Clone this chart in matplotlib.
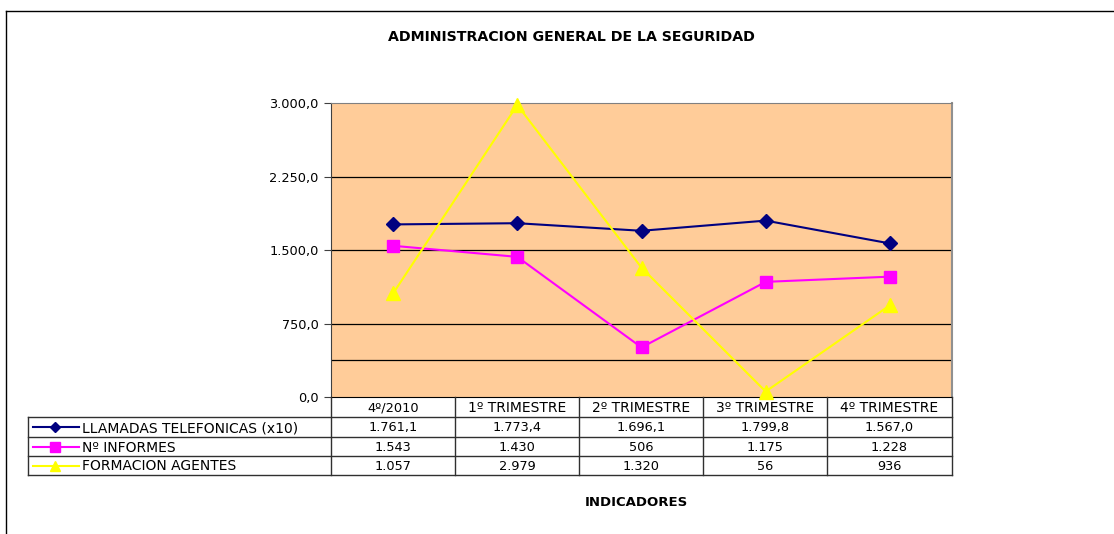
import matplotlib.pyplot as plt
from matplotlib.lines import Line2D
from matplotlib.ticker import FuncFormatter

plt.rcParams['font.family'] = ['DejaVu Sans']

# datos
periodos = ["4º/2010", "1º TRIMESTRE", "2º TRIMESTRE", "3º TRIMESTRE", "4º TRIMESTRE"]
series = ["LLAMADAS TELEFONICAS (x10)", "Nº INFORMES", "FORMACION AGENTES"]
llamadas = [1761.1, 1773.4, 1696.1, 1799.8, 1567.0]
informes = [1543, 1430, 506, 1175, 1228]
formacion = [1057, 2979, 1320, 56, 936]
y_ticks = [0, 750, 1500, 2250, 3000]

valores = [llamadas, informes, formacion]
decimales = [1, 0, 0]
colores = ["#000080", "#FF00FF", "#FFFF00"]
marcadores = ["D", "s", "^"]
tam_marc = [7, 9, 10]
tam_leyenda = [5, 7, 7]

W, H = 1114, 534
FS_NUM = 9.3   # numeros
FS_TXT = 10.0  # textos en mayusculas


def fx(px):
    return px / W


def fy(py):
    return 1 - py / H


def num_es(v, dec):
    s = f"{v:,.{dec}f}"
    return s.replace(",", "X").replace(".", ",").replace("X", ".")


fig = plt.figure(figsize=(W / 100, H / 100), dpi=100)
fig.patch.set_facecolor("white")

# marco exterior
fig.add_artist(Line2D([fx(6), fx(1114)], [fy(11), fy(11)], color="black", lw=1))
fig.add_artist(Line2D([fx(6), fx(6)], [fy(11), fy(534)], color="black", lw=1))

L, R, T, B = 331, 952, 103, 397
ax = fig.add_axes([fx(L), fy(B), fx(R - L), fy(T) - fy(B)])
ax.set_facecolor("#FFCC99")

for ys in [375, 750, 1500, 2250]:
    ax.axhline(ys, color="black", lw=0.9, zorder=1)

x = list(range(len(periodos)))
for vals, c, m, ms in zip(valores, colores, marcadores, tam_marc):
    ax.plot(x, vals, color=c, marker=m, markersize=ms, lw=1.5,
            markeredgecolor=c, clip_on=False, zorder=3)

ax.set_xlim(-0.5, len(periodos) - 0.5)
ax.set_ylim(0, 3000)
ax.set_yticks(y_ticks)
ax.yaxis.set_major_formatter(FuncFormatter(lambda v, p: num_es(v, 1)))
ax.tick_params(axis="y", direction="out", length=5, width=0.8,
               labelsize=FS_NUM, pad=4, colors="#404040", labelcolor="black")
ax.set_xticks([])
ax.spines["left"].set_color("#404040")
ax.spines["right"].set_color("#909090")
ax.spines["right"].set_linewidth(1.5)
ax.spines["top"].set_color("#808080")
ax.spines["bottom"].set_color("black")

# tabla de datos
cols = [331, 455, 579, 703, 827, 952]
filas = [397, 417, 437, 456, 475]
lc = "#303030"
for yy in filas[1:]:
    fig.add_artist(Line2D([fx(28), fx(952)], [fy(yy), fy(yy)], color=lc, lw=1))
fig.add_artist(Line2D([fx(28), fx(28)], [fy(417), fy(475)], color=lc, lw=1))
for xx in cols:
    fig.add_artist(Line2D([fx(xx), fx(xx)], [fy(397), fy(475)], color=lc, lw=1))

for i, p in enumerate(periodos):
    cx = (cols[i] + cols[i + 1]) / 2
    fig.text(fx(cx), fy((filas[0] + filas[1]) / 2 + 1), p, ha="center", va="center",
             fontsize=FS_NUM if i == 0 else FS_TXT)

for j, (nombre, vals, dec, c, m, ms) in enumerate(zip(series, valores, decimales, colores, marcadores, tam_leyenda)):
    cy = (filas[j + 1] + filas[j + 2]) / 2
    fig.add_artist(Line2D([fx(33), fx(79)], [fy(cy), fy(cy)], color=c, lw=1.5))
    fig.add_artist(Line2D([fx(55)], [fy(cy)], color=c, marker=m, markersize=ms,
                          markeredgecolor=c, lw=0))
    fig.text(fx(82), fy(cy + 1), nombre, ha="left", va="center", fontsize=FS_TXT)
    for i, v in enumerate(vals):
        cx = (cols[i] + cols[i + 1]) / 2
        fig.text(fx(cx), fy(cy + 1), num_es(v, dec), ha="center", va="center", fontsize=FS_NUM)

fig.text(fx(571), fy(37), "ADMINISTRACION GENERAL DE LA SEGURIDAD",
         ha="center", va="center", fontsize=10.2, fontweight="bold")
fig.text(fx(636), fy(503), "INDICADORES", ha="center", va="center",
         fontsize=9.5, fontweight="bold")

fig.savefig("out.png", dpi=100)
